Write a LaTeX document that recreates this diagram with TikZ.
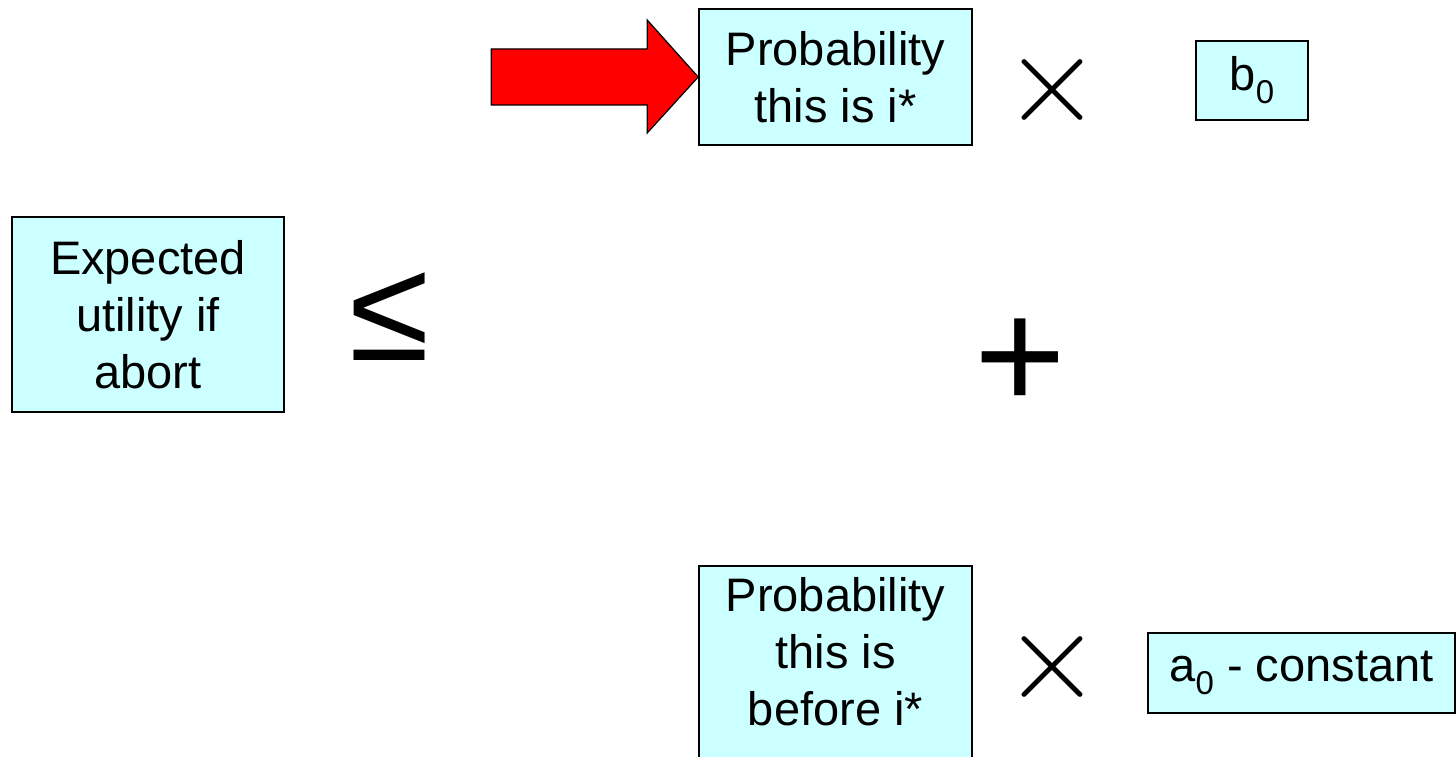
\documentclass[tikz,border=0pt]{standalone}
\usepackage{fontspec}
\setmainfont{Liberation Sans}
\usetikzlibrary{calc}
\definecolor{boxfill}{HTML}{CCFFFF}
\newcommand\lowsub[1]{\raisebox{-13pt}{\fontsize{33}{33}\selectfont #1}}
\begin{document}
\begin{tikzpicture}[x=1pt,y=-1pt,
  box/.style={draw=black, line width=1.6pt, fill=boxfill, inner sep=0pt, align=center, font=\fontsize{47}{57}\selectfont},
  plaintext/.style={inner sep=0pt, align=center, font=\fontsize{47}{57}\selectfont},
  op/.style={inner sep=0pt},
  bigarrow/.style={draw=black, fill=red, line width=1.2pt, line join=miter}]
\useasboundingbox (0,0) rectangle (1456,757);
\clip (0,0) rectangle (1456,757);
\fill[white] (0,0) rectangle (1456,757);

\node[box, minimum width=273pt, minimum height=136pt] (p1) at (835.5,77) {Probability\\this is i*};
\node[box, minimum width=112pt, minimum height=79pt] (b0) at (1252,80.5) {b\lowsub{0}};
\node[box, minimum width=272pt, minimum height=195pt] (eu) at (148,314.5) {Expected\\utility if\\abort};
\node[box, minimum width=273pt, minimum height=230pt, anchor=north] (p2) at (835.5,565) {};
\node[plaintext] (p2t) at (835.5,651.7) {Probability\\this is\\before i*};
\node[box, minimum width=307pt, minimum height=80pt] (a0) at (1301.5,673) {a\lowsub{0} - constant};

\node[op, font=\fontsize{146}{146}\selectfont] (le) at (389.5,317) {≤};
\node[op, scale=12.6] (x1) at (1052,89.5) {$\times$};
\node[op, scale=12.6] (x2) at (1052,666.5) {$\times$};
\node[op, font=\fontsize{157}{157}\selectfont] (plus) at (1020,364.5) {+};

\coordinate (tip) at (p1.west);
\draw[bigarrow] ($(tip)+(-207,-28)$) -- ($(tip)+(-51,-28)$) -- ($(tip)+(-51,-57)$) -- (tip)
  -- ($(tip)+(-51,56)$) -- ($(tip)+(-51,28)$) -- ($(tip)+(-207,28)$) -- cycle;
\end{tikzpicture}
\end{document}
